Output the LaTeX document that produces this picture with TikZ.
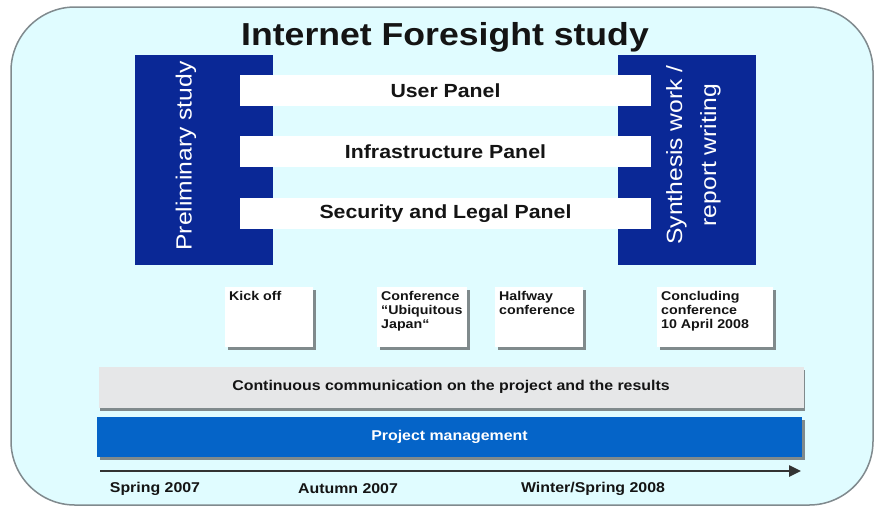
\documentclass[tikz,border=0pt]{standalone}
\usepackage{fontspec}
\setmainfont{Liberation Sans}[FakeStretch=1.12]
\usetikzlibrary{positioning,shadows,arrows.meta}
\definecolor{bgcyan}{RGB}{224,252,255}
\definecolor{framegray}{RGB}{128,138,142}
\definecolor{darkblue}{RGB}{10,40,150}
\definecolor{pmblue}{RGB}{5,100,200}
\definecolor{bargray}{RGB}{230,231,232}
\definecolor{shadowgray}{RGB}{128,138,140}
\definecolor{textblack}{RGB}{20,20,20}
\newcommand{\evtext}[2]{\parbox[t][52pt][t]{#1}{\raggedright #2}}
\tikzset{
	studybox/.style={fill=darkblue, minimum width=138pt, minimum height=210pt, inner sep=0pt},
	studytext/.style={text=white, align=center, font=\fontsize{22}{34}\selectfont},
	panelbar/.style={fill=white, minimum width=411pt, minimum height=31pt, inner sep=0pt, text=textblack, font=\fontsize{19}{22}\selectfont\bfseries},
	eventbox/.style={fill=white, anchor=north west, inner sep=4pt, text=textblack, font=\fontsize{12.7}{14}\selectfont\bfseries, drop shadow={shadow xshift=3pt, shadow yshift=-3pt, fill=shadowgray, opacity=1}},
	timebar/.style={minimum width=705pt, minimum height=41pt, inner sep=0pt, font=\fontsize{14.2}{16}\selectfont\bfseries},
	timelabel/.style={text=textblack, font=\fontsize{14.2}{16}\selectfont\bfseries}
}
\begin{document}
\begin{tikzpicture}[x=1pt, y=-1pt]
		\useasboundingbox (0,0) rectangle (874,507) ;
		% Frame
		\draw[framegray, fill=bgcyan, line width=1.5pt, rounded corners=64pt] (11,7) rectangle (873,505) ;
		\node[text=textblack, font=\fontsize{31.8}{36}\selectfont\bfseries] (Title) at (445,37) {Internet Foresight study} ;
		% Study phases
		\node[studybox] (Prelim) at (204,160) {} ;
		\node[studybox] (Synth) at (686.5,160) {} ;
		\node[studytext, rotate=90] (PrelimText) at ([xshift=-18pt, yshift=4pt]Prelim.center) {Preliminary study} ;
		\node[studytext, rotate=90] (SynthText) at ([xshift=7pt, yshift=5pt]Synth.center) {Synthesis work /\\report writing} ;
		% Panels
		\node[panelbar] (User) at (445.5,90.5) {User Panel} ;
		\node[panelbar] (Infra) at (445.5,151.5) {Infrastructure Panel} ;
		\node[panelbar] (Security) at (445.5,213.5) {Security and Legal Panel} ;
		% Events
		\node[eventbox] (KickOff) at (225,287) {\evtext{80pt}{Kick off}} ;
		\node[eventbox] (Ubiquitous) at (377,287) {\evtext{82pt}{Conference\\“Ubiquitous\\Japan“}} ;
		\node[eventbox] (Halfway) at (495,287) {\evtext{80pt}{Halfway\\conference}} ;
		\node[eventbox] (Concluding) at (657,287) {\evtext{108pt}{Concluding\\conference\\10 April 2008}} ;
		% Bottom bars
		\node[timebar, fill=bargray, text=textblack, drop shadow={shadow xshift=1pt, shadow yshift=-3pt, fill=shadowgray, opacity=1}] (Comm) at (451,387) {Continuous communication on the project and the results} ;
		\node[timebar, fill=pmblue, text=white, minimum height=40pt, drop shadow={shadow xshift=3pt, shadow yshift=-3pt, fill=shadowgray, opacity=1}] (Manage) at (449.5,437) {Project management} ;
		% Timeline
		\coordinate (TimeStart) at (100,471) ;
		\coordinate (TimeEnd) at (801,471) ;
		\draw[line width=2.5pt, draw=black!80, -{Triangle[length=12pt, width=11pt]}] (TimeStart) -- (TimeEnd) ;
		\node[timelabel] (Spring) at (155,489) {Spring 2007} ;
		\node[timelabel] (Autumn) at (348,489) {Autumn 2007} ;
		\node[timelabel] (Winter) at (593,489) {Winter/Spring 2008} ;
	\end{tikzpicture}
\end{document}
